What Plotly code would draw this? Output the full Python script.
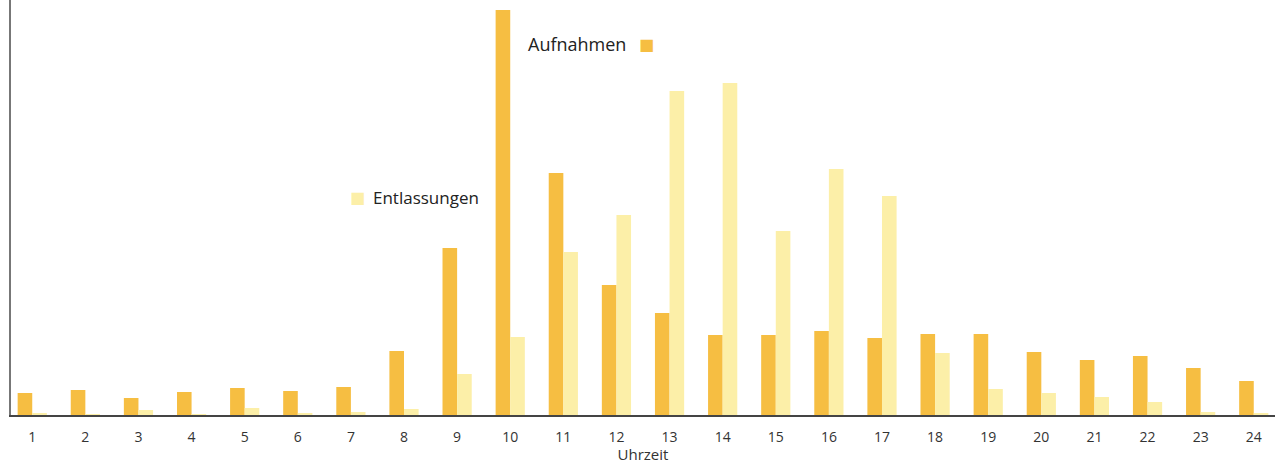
import plotly.graph_objects as go

stunden = list(range(1, 25))
tick_labels = [str(h) for h in stunden]
aufnahmen = [22, 25, 17, 23, 27, 24, 28, 64, 167, 405, 242, 130, 102, 80, 80, 84, 77, 81, 81, 63, 55, 59, 47, 34]
entlassungen = [2, 1, 5, 1, 7, 2, 3, 6, 41, 78, 163, 200, 324, 332, 184, 246, 219, 62, 26, 22, 18, 13, 3, 2]

c_auf = "#F6BE42"
c_ent = "#FCEFA8"
font = "Open Sans"

fig = go.Figure()
fig.add_trace(go.Bar(x=stunden, y=aufnahmen, name="Aufnahmen", marker_color=c_auf, marker_line_width=0))
fig.add_trace(go.Bar(x=stunden, y=entlassungen, name="Entlassungen", marker_color=c_ent, marker_line_width=0))

fig.update_layout(
    width=1275, height=464,
    margin=dict(l=11, r=0, t=0, b=49),
    barmode="group", bargap=0.45, bargroupgap=0,
    plot_bgcolor="white", paper_bgcolor="white",
    showlegend=False,
    font=dict(family=font, size=13, color="#333"),
)
fig.update_xaxes(
    range=[0.6, 24.4], tickvals=stunden, ticktext=tick_labels,
    showline=True, linecolor="#444", linewidth=1.5, showgrid=False, ticks="",
    ticklabelstandoff=8,
    title=dict(text="Uhrzeit", font=dict(size=15, family=font, color="#333"), standoff=2),
    tickfont=dict(size=14, family=font, color="#333"),
    automargin=False,
)
fig.update_yaxes(
    range=[0, 415], showline=True, linecolor="#777", linewidth=1.5,
    showgrid=False, showticklabels=False, ticks="", zeroline=False,
    automargin=False,
)

fig.add_annotation(xref="paper", yref="paper", x=(526 - 11) / 1264, y=(415 - 44) / 415,
                   text="Aufnahmen", showarrow=False, xanchor="left", yanchor="middle",
                   font=dict(size=18, family=font, color="#222"))
fig.add_annotation(xref="paper", yref="paper", x=(646 - 11) / 1264, y=(415 - 44) / 415,
                   text="■", showarrow=False, xanchor="center", yanchor="middle",
                   font=dict(size=16, family="DejaVu Sans", color=c_auf))
fig.add_annotation(xref="paper", yref="paper", x=(371 - 11) / 1264, y=(415 - 198) / 415,
                   text="Entlassungen", showarrow=False, xanchor="left", yanchor="middle",
                   font=dict(size=17, family=font, color="#222"))
fig.add_annotation(xref="paper", yref="paper", x=(357 - 11) / 1264, y=(415 - 198) / 415,
                   text="■", showarrow=False, xanchor="center", yanchor="middle",
                   font=dict(size=16, family="DejaVu Sans", color=c_ent))

fig.write_html("out.html", config={"displayModeBar": False},
               post_script="document.body.style.margin='0';")
